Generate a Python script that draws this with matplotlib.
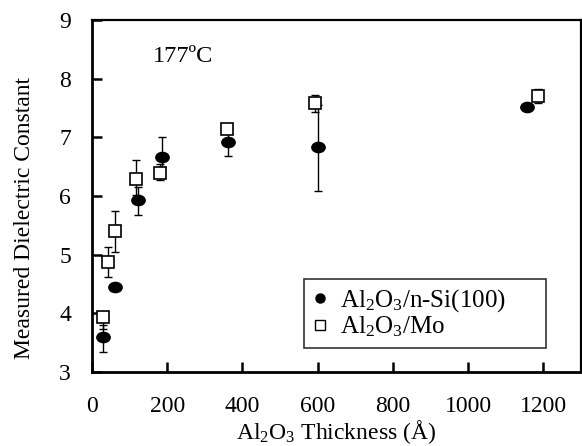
import matplotlib
matplotlib.use("Agg")
import matplotlib.pyplot as plt
from matplotlib.path import Path
from matplotlib.transforms import Affine2D
from matplotlib.lines import Line2D
import numpy as np

plt.rcParams['font.family'] = ['Liberation Serif', 'DejaVu Serif']
plt.rcParams['mathtext.fontset'] = 'custom'
plt.rcParams['mathtext.rm'] = 'Liberation Serif'
plt.rcParams['mathtext.it'] = 'Liberation Serif:italic'
plt.rcParams['mathtext.bf'] = 'Liberation Serif:bold'

# Al2O3/n-Si(100)
si_x = [30, 60, 122, 185, 362, 600, 1157]
si_y = [3.60, 4.45, 5.93, 6.66, 6.92, 6.83, 7.51]
si_lo = [0.26, 0.0, 0.26, 0.16, 0.23, 0.75, 0.0]
si_hi = [0.20, 0.0, 0.22, 0.34, 0.15, 0.72, 0.0]

# Al2O3/Mo
mo_x = [30, 42, 61, 118, 181, 358, 592, 1185]
mo_y = [3.93, 4.87, 5.40, 6.29, 6.40, 7.15, 7.58, 7.70]
mo_lo = [0.20, 0.25, 0.35, 0.28, 0.12, 0.0, 0.15, 0.12]
mo_hi = [0.0, 0.26, 0.35, 0.32, 0.15, 0.0, 0.15, 0.12]

xticks = [0, 200, 400, 600, 800, 1000, 1200]
yticks = [3, 4, 5, 6, 7, 8, 9]

label_si = r'Al$_2$O$_3$/n-Si(100)'
label_mo = r'Al$_2$O$_3$/Mo'

# slightly wide ellipse marker (the scanned figure is stretched horizontally)
ellipse = Path.unit_circle().transformed(Affine2D().scale(1.3, 1.0))

fig = plt.figure(figsize=(5.82, 4.46), dpi=100)
ax = fig.add_axes([0.158, 0.166, 0.84, 0.789])

ax.errorbar(si_x, si_y, yerr=[si_lo, si_hi], fmt='none', ecolor='black',
            capsize=3.2, elinewidth=1.0, capthick=1.0, zorder=2)
ax.plot(si_x, si_y, linestyle='none', marker=ellipse, markersize=9.6,
        color='black', zorder=3)
ax.errorbar(mo_x, mo_y, yerr=[mo_lo, mo_hi], fmt='none', ecolor='black',
            capsize=3.2, elinewidth=1.0, capthick=1.0, zorder=2)
ax.plot(mo_x, mo_y, linestyle='none', marker='s', markersize=8.5,
        markerfacecolor='white', markeredgecolor='black', markeredgewidth=1.2,
        zorder=4)

ax.set_xlim(0, 1300)
ax.set_ylim(3, 9)
ax.set_xticks(xticks)
ax.set_yticks(yticks)
ax.tick_params(direction='in', length=7.5, width=1.8, labelsize=17)
ax.tick_params(axis='y', pad=15)
ax.tick_params(axis='x', pad=17)
for s in ['left', 'bottom']:
    ax.spines[s].set_linewidth(2.0)
for s in ['top', 'right']:
    ax.spines[s].set_linewidth(1.6)

ax.set_xlabel(r'Al$_2$O$_3$ Thickness (Å)', fontsize=17, labelpad=1)
ax.set_ylabel('Measured Dielectric Constant', fontsize=17)
ax.yaxis.set_label_coords(-0.117, 0.4375)

ax.text(0.125, 0.88, '177ºC', transform=ax.transAxes, fontsize=17.5)

handles = [
    Line2D([], [], linestyle='none', marker='o', markersize=6.5, color='black'),
    Line2D([], [], linestyle='none', marker='s', markersize=6.5,
           markerfacecolor='white', markeredgecolor='black', markeredgewidth=1.0),
]
leg = ax.legend(handles, [label_si, label_mo], loc='lower left',
                bbox_to_anchor=(0.433, 0.068, 0.496, 0.193), mode='expand',
                fontsize=18, frameon=True, fancybox=False, edgecolor='black',
                handlelength=0.6, handletextpad=0.5, borderpad=0.36,
                labelspacing=0.0, borderaxespad=0.0)
leg.get_frame().set_linewidth(1.2)

fig.savefig('out.png', dpi=100)
